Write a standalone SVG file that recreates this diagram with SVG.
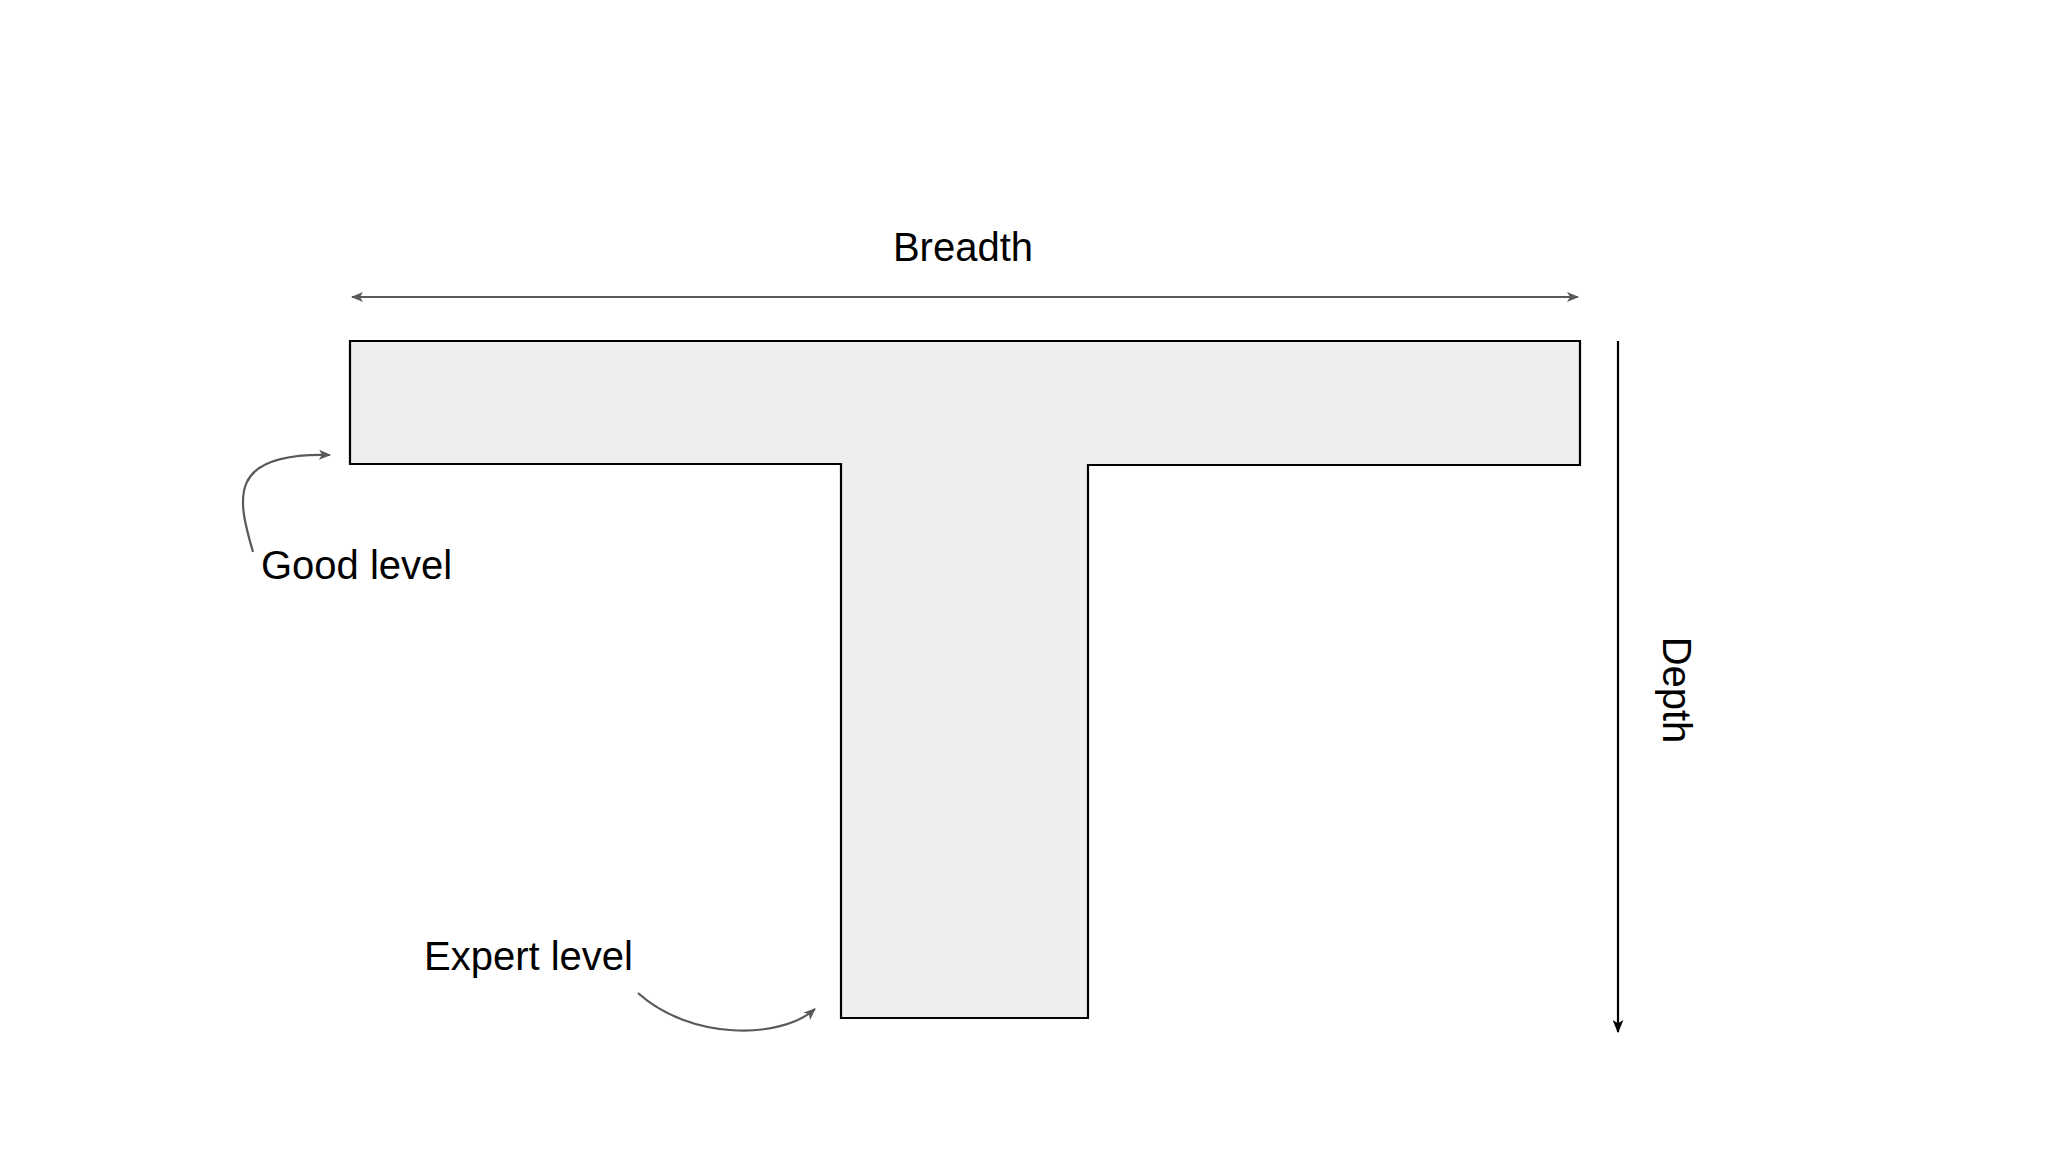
<svg xmlns="http://www.w3.org/2000/svg" width="2048" height="1152" viewBox="0 0 2048 1152">
  <style>
    .lbl { font-family: "Liberation Sans", Arial, sans-serif; font-size: 40px; fill: #000; }
    .gray { fill: none; stroke: #595959; stroke-width: 2.2; }
    .blk { fill: none; stroke: #000; stroke-width: 2.2; }
  </style>
  <defs>
    <marker id="ahg" viewBox="0 0 12 10" refX="11" refY="5" markerWidth="12" markerHeight="10" markerUnits="userSpaceOnUse" orient="auto-start-reverse">
      <path d="M0,0 L12,5 L0,10 L3,5 Z" fill="#595959"/>
    </marker>
    <marker id="ahb" viewBox="0 0 12 10" refX="11" refY="5" markerWidth="13" markerHeight="11" markerUnits="userSpaceOnUse" orient="auto">
      <path d="M0,0 L12,5 L0,10 L3,5 Z" fill="#000"/>
    </marker>
  </defs>
  <rect width="2048" height="1152" fill="#fff"/>

  <g id="t-shape">
    <path d="M350,341 L1580,341 L1580,465 L1088,465 L1088,1018 L841,1018 L841,464 L350,464 Z" fill="#eeeeee" stroke="#000" stroke-width="2.2"/>
  </g>

  <g id="label-breadth">
    <text class="lbl" x="963" y="261" text-anchor="middle">Breadth</text>
  </g>
  <g id="label-depth">
    <text class="lbl" x="0" y="0" text-anchor="middle" transform="translate(1663,690) rotate(90)">Depth</text>
  </g>
  <g id="label-good">
    <text class="lbl" x="261" y="579">Good level</text>
  </g>
  <g id="label-expert">
    <text class="lbl" x="424" y="970">Expert level</text>
  </g>

  <g id="connectors">
    <path class="gray" d="M352,297 L1578,297" marker-start="url(#ahg)" marker-end="url(#ahg)"/>
    <path class="blk" d="M1618,341 L1618,1032" marker-end="url(#ahb)"/>
    <path class="gray" d="M253,552 C238,500 225,452 330,455" marker-end="url(#ahg)"/>
    <path class="gray" d="M638,993 C690,1040 780,1040 815,1009" marker-end="url(#ahg)"/>
  </g>
</svg>
